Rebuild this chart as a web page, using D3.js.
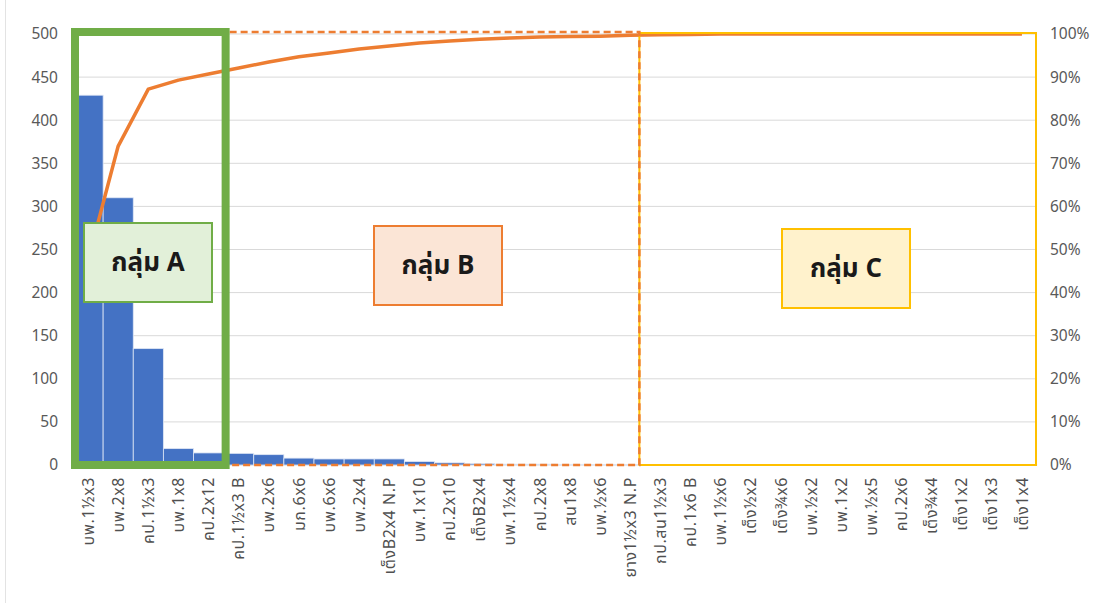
<!DOCTYPE html>
<html lang="th">
<head>
<meta charset="UTF-8">
<title>Pareto</title>
<script src="https://cdn.jsdelivr.net/npm/d3@7"></script>
<style>
  body { margin: 0; background: #fff; }
  text { font-family: "Noto Sans Thai", "Leelawadee UI", Tahoma, "Noto Sans", "DejaVu Sans", sans-serif; }
</style>
</head>
<body>
<script>
// ข้อมูล
var categories = ["บพ.1½x3", "บพ.2x8", "คป.1½x3", "บพ.1x8", "คป.2x12", "คป.1½x3 B", "บพ.2x6", "มก.6x6",
    "บพ.6x6", "บพ.2x4", "เต็งB2x4 N.P", "บพ.1x10", "คป.2x10", "เต็งB2x4", "บพ.1½x4", "คป.2x8",
    "สน1x8", "บพ.½x6", "ยาง1½x3 N.P", "กป.สน1½x3", "คป.1x6 B", "บพ.1½x6", "เต็ง½x2", "เต็ง¾x6",
    "บพ.½x2", "บพ.1x2", "บพ.½x5", "คป.2x6", "เต็ง¾x4", "เต็ง1x2", "เต็ง1x3", "เต็ง1x4"];
var quantity = [429, 310, 135, 19, 14, 13.5, 12, 8, 7, 7, 7, 4, 2.5, 1.5, 1, 1, 0.8, 0.6, 0.5,
    0.4, 0.4, 0.3, 0.3, 0.3, 0.3, 0.2, 0.2, 0.2, 0.2, 0.2, 0.2, 0.2];
// เปอร์เซ็นต์สะสม (อ่านจากกราฟ)
var cumPercent = [47.5, 74, 87.2, 89.3, 90.7, 92.1, 93.5, 94.7, 95.6, 96.5, 97.2, 97.9, 98.4, 98.8,
    99.1, 99.3, 99.4, 99.5, 99.7, 99.8, 99.9, 100, 100, 100, 100, 100, 100, 100, 100, 100, 100, 100];
var leftTicks = [0, 50, 100, 150, 200, 250, 300, 350, 400, 450, 500];
var rightTicks = [0, 10, 20, 30, 40, 50, 60, 70, 80, 90, 100];
var groups = [
    {name: "กลุ่ม A", from: 0, to: 4},
    {name: "กลุ่ม B", from: 5, to: 18},
    {name: "กลุ่ม C", from: 19, to: 31}
];

var width = 1103, height = 603;
var margin = {left: 73, right: 66, top: 34, bottom: 138};

var svg = d3.select("body").append("svg")
    .attr("width", width)
    .attr("height", height);

// เส้นขอบซ้าย
svg.append("line")
    .attr("x1", 5.5).attr("x2", 5.5).attr("y1", 0).attr("y2", height)
    .attr("stroke", "#e3e3e3");

var x = d3.scaleBand()
    .domain(categories)
    .range([margin.left, width - margin.right])
    .paddingInner(0).paddingOuter(0);

var y = d3.scaleLinear().domain([0, 500]).range([height - margin.bottom, margin.top]);
var y2 = d3.scaleLinear().domain([0, 100]).range([height - margin.bottom, margin.top]);

// เส้นกริด
svg.append("g")
    .selectAll("line")
    .data(leftTicks)
    .enter().append("line")
    .attr("x1", margin.left).attr("x2", width - margin.right)
    .attr("y1", function (d) { return y(d); })
    .attr("y2", function (d) { return y(d); })
    .attr("stroke", "#d9d9d9").attr("stroke-width", 1);

// แกนซ้าย
var leftAxis = svg.append("g")
    .attr("transform", "translate(" + (margin.left - 6) + ",0)")
    .call(d3.axisLeft(y).tickValues(leftTicks).tickSize(0).tickPadding(9));
leftAxis.select(".domain").remove();
leftAxis.selectAll("text").attr("fill", "#595959").style("font-size", "15.5px");

// แกนขวา
var rightAxis = svg.append("g")
    .attr("transform", "translate(" + (width - margin.right + 5) + ",0)")
    .call(d3.axisRight(y2).tickValues(rightTicks).tickSize(0).tickPadding(8)
        .tickFormat(function (d) { return d + "%"; }));
rightAxis.select(".domain").remove();
rightAxis.selectAll("text").attr("fill", "#595959").style("font-size", "15.5px");

// แกน x
var xAxis = svg.append("g")
    .attr("transform", "translate(0," + (height - margin.bottom) + ")")
    .call(d3.axisBottom(x).tickSize(0).tickPadding(0));
xAxis.select(".domain").remove();
xAxis.selectAll("text")
    .attr("fill", "#505050")
    .style("font-size", "16px")
    .style("letter-spacing", "0.6px")
    .attr("text-anchor", "end")
    .attr("dy", "0.35em")
    .attr("transform", "translate(0,12) rotate(-90)")
    .attr("x", 0).attr("y", 0);

// แท่ง
svg.append("g")
    .selectAll("rect")
    .data(quantity)
    .enter().append("rect")
    .attr("x", function (d, i) { return x(categories[i]); })
    .attr("y", function (d) { return y(d); })
    .attr("width", x.bandwidth())
    .attr("height", function (d) { return y(0) - y(d); })
    .attr("fill", "#4472c4")
    .attr("stroke", "#dfe7f5").attr("stroke-width", 0.8);

// เส้นสะสม
var line = d3.line()
    .x(function (d, i) { return x(categories[i]) + x.bandwidth() / 2; })
    .y(function (d) { return y2(d); });
svg.append("path")
    .datum(cumPercent)
    .attr("d", line)
    .attr("fill", "none")
    .attr("stroke", "#ed7d31")
    .attr("stroke-width", 3.5)
    .attr("stroke-linejoin", "round");

// กรอบกลุ่ม
var gA = groups[0], gB = groups[1], gC = groups[2];
var cx0 = function (g) { return x(categories[g.from]); };
var cx1 = function (g) { return x(categories[g.to]) + x.bandwidth(); };
var splitBC = cx0(gC) - 6;

svg.append("rect")
    .attr("x", splitBC).attr("y", y(500) - 1)
    .attr("width", cx1(gC) - splitBC - 1).attr("height", y(0) - y(500) + 1)
    .attr("fill", "none").attr("stroke", "#ffc000").attr("stroke-width", 2);

svg.append("path")
    .attr("d", "M" + (cx0(gB) + 6) + "," + (y(500) - 2) + "H" + splitBC + "V" + y(0) + "H" + (cx0(gB) + 6))
    .attr("fill", "none").attr("stroke", "#ed7d31").attr("stroke-width", 2.5)
    .attr("stroke-dasharray", "7,4");

svg.append("rect")
    .attr("x", cx0(gA) + 2).attr("y", y(500) - 2)
    .attr("width", cx1(gA) - cx0(gA)).attr("height", y(0) - y(500) + 2)
    .attr("fill", "none").attr("stroke", "#70ad47").attr("stroke-width", 8);

// ป้ายกลุ่ม
var labelBoxes = [
    {x: 84, y: 223, fill: "#e2f0d9", stroke: "#70ad47"},
    {x: 374, y: 226, fill: "#fbe5d6", stroke: "#ed7d31"},
    {x: 782, y: 229, fill: "#fff2cc", stroke: "#ffc000"}
];
labelBoxes.forEach(function (b, i) {
    svg.append("rect")
        .attr("x", b.x).attr("y", b.y)
        .attr("width", 128).attr("height", 79)
        .attr("fill", b.fill).attr("stroke", b.stroke).attr("stroke-width", 2);
    svg.append("text")
        .attr("x", b.x + 64).attr("y", b.y + 40)
        .attr("text-anchor", "middle")
        .attr("dominant-baseline", "central")
        .style("font-size", "26px")
        .style("font-weight", "bold")
        .attr("fill", "#1a1a1a")
        .text(groups[i].name);
});
</script>
</body>
</html>
